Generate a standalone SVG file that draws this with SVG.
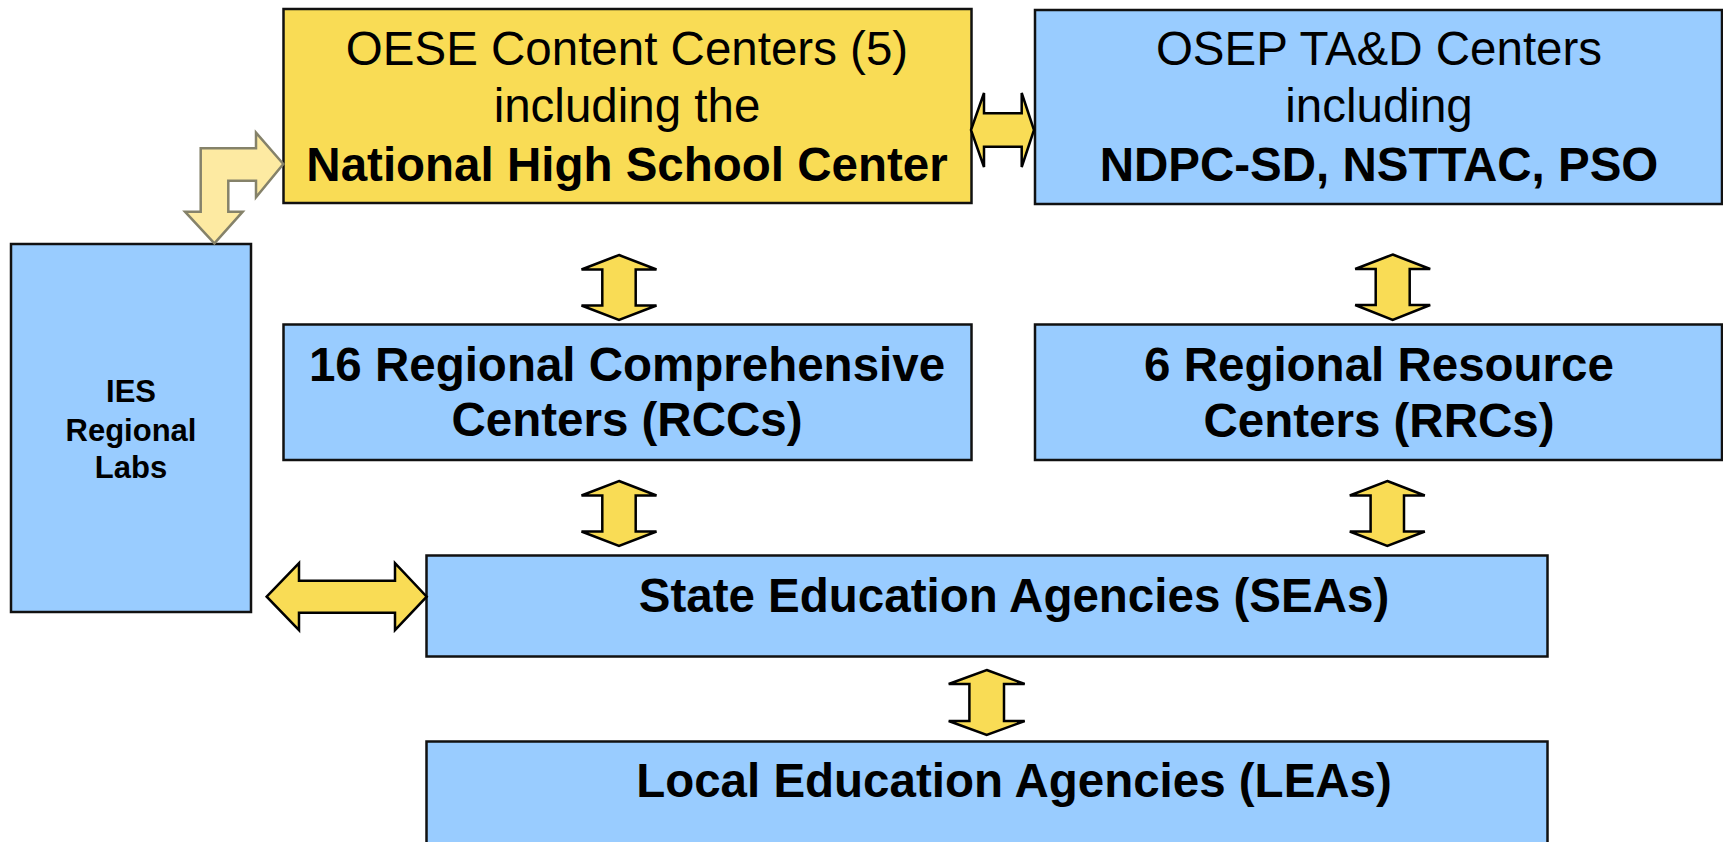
<svg xmlns="http://www.w3.org/2000/svg" width="1723" height="842" viewBox="0 0 1723 842">
<defs>
<style>
.box{stroke:#111;stroke-width:2.5}
.yel{fill:#F9DC55}
.blu{fill:#99CCFF}
.arr{fill:#F9DC55;stroke:#000;stroke-width:2.5;stroke-linejoin:miter}
.shadow{fill:#9a9a9a;opacity:0.55}
.lt{fill:#FDEAA2;stroke:#85826a;stroke-width:2.5}
text{font-family:"Liberation Sans",Arial,sans-serif;fill:#000;text-anchor:middle}
.big{font-size:47.5px}
.b{font-weight:bold}
.sm{font-size:31px;font-weight:bold}
</style>
</defs>
<g id="oese">
<rect class="box yel" x="283.5" y="9" width="688" height="194"/>
<text class="big" x="627" y="65">OESE Content Centers (5)</text>
<text class="big" x="627" y="122">including the</text>
<text class="big b" x="627" y="181">National High School Center</text>
</g>
<g id="osep">
<rect class="box blu" x="1035" y="10" width="687" height="194"/>
<text class="big" x="1379" y="65">OSEP TA&amp;D Centers</text>
<text class="big" x="1379" y="122">including</text>
<text class="big b" x="1379" y="181">NDPC-SD, NSTTAC, PSO</text>
</g>
<g id="ies">
<rect class="box blu" x="11" y="244" width="240" height="368"/>
<text class="sm" x="131" y="402">IES</text>
<text class="sm" x="131" y="441">Regional</text>
<text class="sm" x="131" y="478">Labs</text>
</g>
<g id="rcc">
<rect class="box blu" x="283.5" y="324.5" width="688" height="135.5"/>
<text class="big b" x="627" y="381">16 Regional Comprehensive</text>
<text class="big b" x="627" y="436">Centers (RCCs)</text>
</g>
<g id="rrc">
<rect class="box blu" x="1035" y="324.5" width="687" height="135.5"/>
<text class="big b" x="1379" y="381">6 Regional Resource</text>
<text class="big b" x="1379" y="437">Centers (RRCs)</text>
</g>
<g id="sea">
<rect class="box blu" x="426.5" y="555.5" width="1121" height="101"/>
<text class="big b" x="1014" y="612">State Education Agencies (SEAs)</text>
</g>
<g id="lea">
<rect class="box blu" x="426.5" y="741.5" width="1121" height="110"/>
<text class="big b" x="1014" y="797">Local Education Agencies (LEAs)</text>
</g>
<g id="connectors">
<path class="lt" d="M283.3,164 L256,132.7 L256,148.3 L200.7,148.3 L200.7,211.7 L185,211.7 L214.4,243.3 L242.7,211.7 L228.3,211.7 L228.3,180.7 L256,180.7 L256,197.3 Z"/>
<path class="arr" d="M971,130 L984,93 L984,113.3 L1021.7,113.3 L1021.7,93 L1034,130 L1021.7,167 L1021.7,146.7 L984,146.7 L984,167 Z"/>
<path class="arr" d="M619,255 L656.5,269.5 L635.7,269.5 L635.7,305.5 L656.5,305.5 L619,320 L581.5,305.5 L602.3,305.5 L602.3,269.5 L581.5,269.5 Z"/>
<path class="arr" d="M619,481 L656.5,495.5 L635.7,495.5 L635.7,531.5 L656.5,531.5 L619,546 L581.5,531.5 L602.3,531.5 L602.3,495.5 L581.5,495.5 Z"/>
<path class="arr" d="M1392.7,254.5 L1430.2,269 L1409.7,269 L1409.7,305 L1430.2,305 L1392.7,320 L1355.2,305 L1375.7,305 L1375.7,269 L1355.2,269 Z"/>
<path class="arr" d="M1387.3,481 L1424.8,495.5 L1404,495.5 L1404,531.5 L1424.8,531.5 L1387.3,546 L1349.8,531.5 L1370.6,531.5 L1370.6,495.5 L1349.8,495.5 Z"/>
<path class="arr" d="M986.7,670 L1024.7,684 L1004,684 L1004,721 L1024.7,721 L986.7,735 L948.7,721 L969.4,721 L969.4,684 L948.7,684 Z"/>
<path class="arr" d="M266.7,596.7 L299,563.2 L299,580.7 L395,580.7 L395,563.2 L426.7,596.7 L395,630.2 L395,612.7 L299,612.7 L299,630.2 Z"/>
</g>
</svg>
